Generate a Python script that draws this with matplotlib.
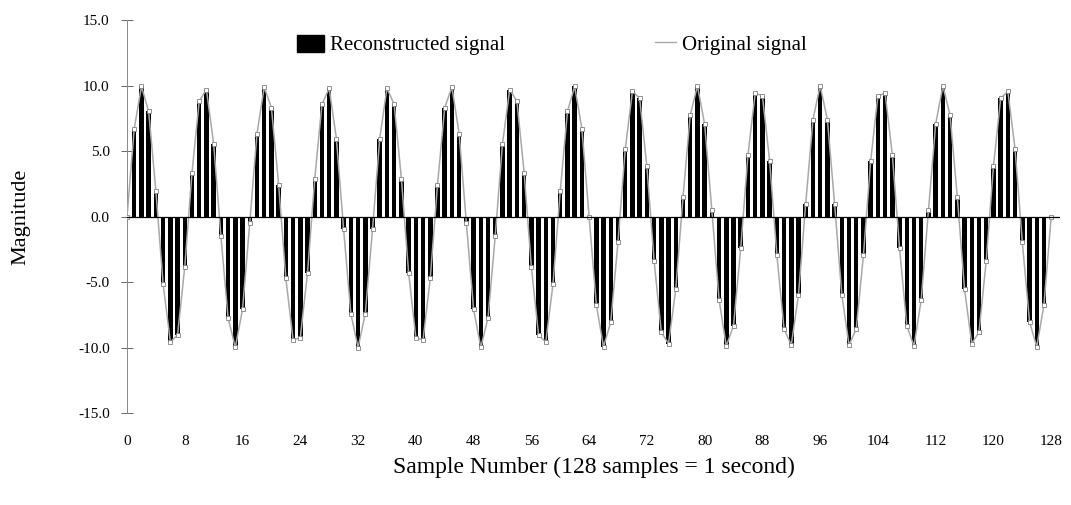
import matplotlib.pyplot as plt
from matplotlib.patches import Patch
from matplotlib.lines import Line2D

plt.rcParams['font.family'] = ['Liberation Serif', 'DejaVu Serif']

# ---------------------------------------------------------------
# sample values (128 samples = 1 second, 15 Hz tone, amplitude 10)
# ---------------------------------------------------------------
samples = list(range(0, 129))

original = [
    0.00, 6.72, 9.95, 8.03, 1.95, -5.14, -9.57, -9.04,
    -3.83, 3.37, 8.82, 9.70, 5.56, -1.47, -7.73, -9.99,
    -7.07, -0.49, 6.34, 9.89, 8.32, 2.43, -4.71, -9.42,
    -9.24, -4.28, 2.90, 8.58, 9.81, 5.96, -0.98, -7.41,
    -10.00, -7.41, -0.98, 5.96, 9.81, 8.58, 2.90, -4.28,
    -9.24, -9.42, -4.71, 2.43, 8.32, 9.89, 6.34, -0.49,
    -7.07, -9.99, -7.73, -1.47, 5.56, 9.70, 8.82, 3.37,
    -3.83, -9.04, -9.57, -5.14, 1.95, 8.03, 9.95, 6.72,
    0.00, -6.72, -9.95, -8.03, -1.95, 5.14, 9.57, 9.04,
    3.83, -3.37, -8.82, -9.70, -5.56, 1.47, 7.73, 9.99,
    7.07, 0.49, -6.34, -9.89, -8.32, -2.43, 4.71, 9.42,
    9.24, 4.28, -2.90, -8.58, -9.81, -5.96, 0.98, 7.41,
    10.00, 7.41, 0.98, -5.96, -9.81, -8.58, -2.90, 4.28,
    9.24, 9.42, 4.71, -2.43, -8.32, -9.89, -6.34, 0.49,
    7.07, 9.99, 7.73, 1.47, -5.56, -9.70, -8.82, -3.37,
    3.83, 9.04, 9.57, 5.14, -1.95, -8.03, -9.95, -6.72,
    0.00,
]

# reconstruction is indistinguishable from the original at this scale
reconstructed = list(original)

x_ticks = list(range(0, 129, 8))
y_ticks = [-15.0, -10.0, -5.0, 0.0, 5.0, 10.0, 15.0]
y_tick_labels = ["-15.0", "-10.0", "-5.0", "0.0", "5.0", "10.0", "15.0"]

# ---------------------------------------------------------------
# figure
# ---------------------------------------------------------------
fig = plt.figure(figsize=(10.71, 5.05), dpi=100)
ax = fig.add_axes([0.1186, 0.182, 0.871, 0.778])

ax.bar(samples, reconstructed, width=0.62, color="black", zorder=2)
ax.plot(samples, original, color="#a8a8a8", lw=1.1, marker="s",
        markersize=2.5, mfc="white", mec="#808080", mew=0.6, zorder=3)

# zero line acts as the category axis
ax.axhline(0, color="black", lw=0.9, zorder=4)

ax.set_xlim(0, 129.2)
ax.set_ylim(-15, 15)

ax.set_xticks(x_ticks)
ax.set_xticklabels([str(t) for t in x_ticks], fontsize=11)
ax.set_yticks(y_ticks)
ax.set_yticklabels(y_tick_labels, fontsize=11)

ax.tick_params(axis="x", length=0, pad=16)
ax.tick_params(axis="y", direction="inout", length=9, width=0.7,
               color="#666666", pad=8)

for side in ["top", "right", "bottom"]:
    ax.spines[side].set_visible(False)
ax.spines["left"].set_color("#888888")
ax.spines["left"].set_linewidth(0.7)

ax.set_xlabel("Sample Number (128 samples = 1 second)", fontsize=17,
              labelpad=6)
ax.set_ylabel("Magnitude", fontsize=16, labelpad=34)

# two separate legend entries, spaced like the original layout
leg1 = fig.legend([Patch(facecolor="black", edgecolor="black")],
                  ["Reconstructed signal"], loc="center left",
                  bbox_to_anchor=(0.2596, 0.911), frameon=False,
                  fontsize=15, handlelength=1.3, handleheight=0.9,
                  handletextpad=0.3)
leg2 = fig.legend([Line2D([0], [0], color="#a8a8a8", lw=1.0)],
                  ["Original signal"], loc="center left",
                  bbox_to_anchor=(0.594, 0.911), frameon=False,
                  fontsize=15, handlelength=1.0, handletextpad=0.3)

fig.savefig("out.png", dpi=100)
